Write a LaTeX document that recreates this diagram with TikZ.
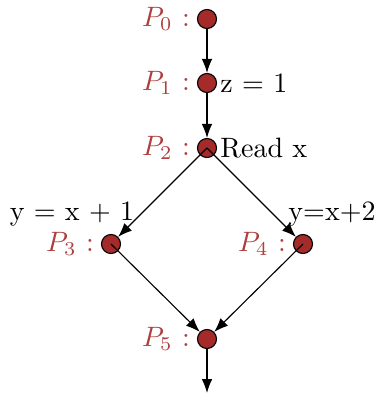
\documentclass[tikz,border=0pt]{standalone}
\usetikzlibrary{arrows.meta}
\definecolor{pointred}{HTML}{A52A2A}

\begin{document}
\begin{tikzpicture}[x=0.357pt,y=-0.357pt,
    point/.style={circle,draw=black,fill=pointred,inner sep=0pt,minimum size=6.8pt},
    plabel/.style={text=pointred!90!white,label distance=-1pt},
    flow/.style={-{Latex[length=5pt,width=3.8pt]},line width=0.4pt}]
  \useasboundingbox (0,0) rectangle (378,394);

  \node[point,label={[plabel]left:$P_0$ :}] (p0) at (207,19) {};
  \node[point,label={[plabel]left:$P_1$ :}] (p1) at (207,83) {};
  \node[point,label={[plabel]left:$P_2$ :}] (p2) at (207,148) {};
  \node[point,label={[plabel]left:$P_3$ :}] (p3) at (111,244) {};
  \node[point,label={[plabel]left:$P_4$ :}] (p4) at (303,244) {};
  \node[point,label={[plabel]left:$P_5$ :}] (p5) at (207,339) {};
  \coordinate (out) at (207,393);

  \node[right,inner sep=1pt] (assign) at (p1.east) {z = 1};
  \node[right,inner sep=1pt] (read) at (p2.east) {Read x};
  \node (left) at (72,214) {y = x + 1};
  \node (right) at (332,214) {y=x+2};

  \draw[flow] (p0) -- (p1);
  \draw[flow] (p1) -- (p2);
  \draw[flow] (p2.center) -- (p3);
  \draw[flow] (p2.center) -- (p4);
  \draw[flow] (p3.center) -- (p5);
  \draw[flow] (p4.center) -- (p5);
  \draw[flow] (p5) -- (out);
\end{tikzpicture}
\end{document}
